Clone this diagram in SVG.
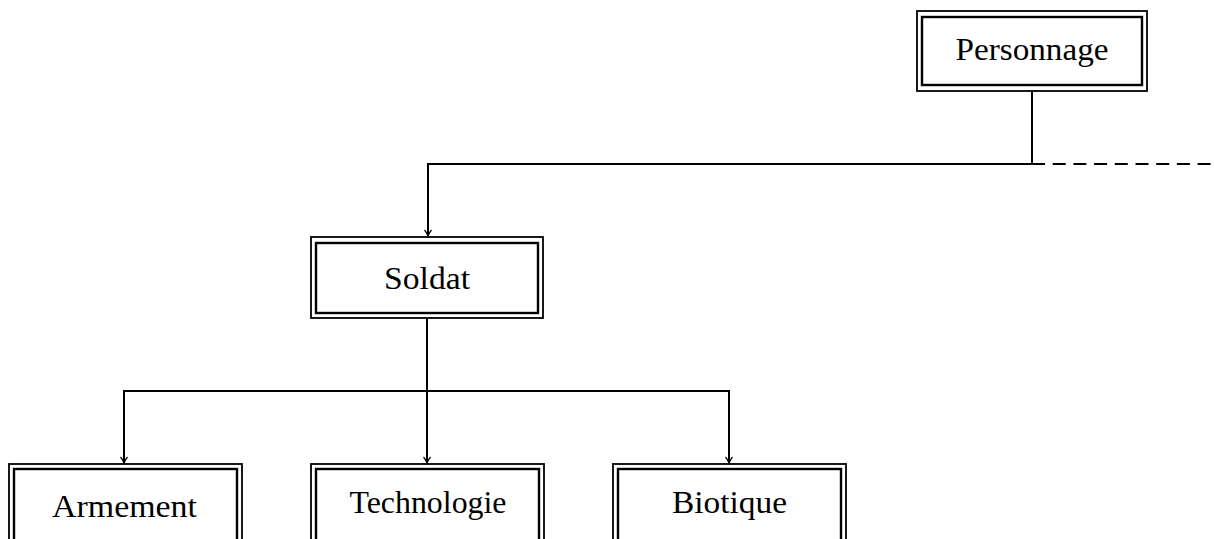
<svg xmlns="http://www.w3.org/2000/svg" width="1214" height="539" viewBox="0 0 1214 539">
<style>
.o{fill:none;stroke:#000;stroke-width:1.8}
.i{fill:none;stroke:#000;stroke-width:2.4}
.t{font-family:"Liberation Serif","DejaVu Serif",serif;font-size:31px;fill:#000;text-anchor:middle}
.c{fill:none;stroke:#000;stroke-width:2}
</style>
<defs>
<marker id="a" markerWidth="10" markerHeight="10" refX="8" refY="5" orient="auto" markerUnits="userSpaceOnUse">
<path d="M2,1.5 Q5,4 8,5 Q5,6 2,8.5" fill="none" stroke="#000" stroke-width="1.2"/>
</marker>
</defs>
<rect width="1214" height="539" fill="#fff"/>
<g id="connectors">
<path class="c" d="M1032,91 V164 H428 V236" marker-end="url(#a)"/>
<path class="c" d="M1032,164 H1214" stroke-dasharray="13 7.7"/>
<path class="c" d="M427,318 V463" marker-end="url(#a)"/>
<path class="c" d="M124,463 V391 H729 V463" marker-end="url(#a)"/>
<path class="c" d="M124,391 V463" marker-end="url(#a)"/>
</g>
<g id="personnage">
<rect class="o" x="917" y="11" width="230" height="80"/>
<rect class="i" x="922" y="17" width="220" height="68"/>
<text class="t" x="1032" y="60" textLength="153" lengthAdjust="spacingAndGlyphs">Personnage</text>
</g>
<g id="soldat">
<rect class="o" x="311" y="237" width="232" height="81"/>
<rect class="i" x="316" y="243" width="222" height="70"/>
<text class="t" x="427" y="289" textLength="86" lengthAdjust="spacingAndGlyphs">Soldat</text>
</g>
<g id="armement">
<rect class="o" x="9" y="464" width="233" height="90"/>
<rect class="i" x="14" y="469" width="223" height="80"/>
<text class="t" x="124.5" y="517" textLength="145" lengthAdjust="spacingAndGlyphs">Armement</text>
</g>
<g id="technologie">
<rect class="o" x="311" y="464" width="233" height="90"/>
<rect class="i" x="316" y="469" width="223" height="80"/>
<text class="t" x="428" y="513" textLength="157" lengthAdjust="spacingAndGlyphs">Technologie</text>
</g>
<g id="biotique">
<rect class="o" x="613" y="464" width="233" height="90"/>
<rect class="i" x="618" y="469" width="223" height="80"/>
<text class="t" x="729.5" y="513" textLength="115" lengthAdjust="spacingAndGlyphs">Biotique</text>
</g>
</svg>
